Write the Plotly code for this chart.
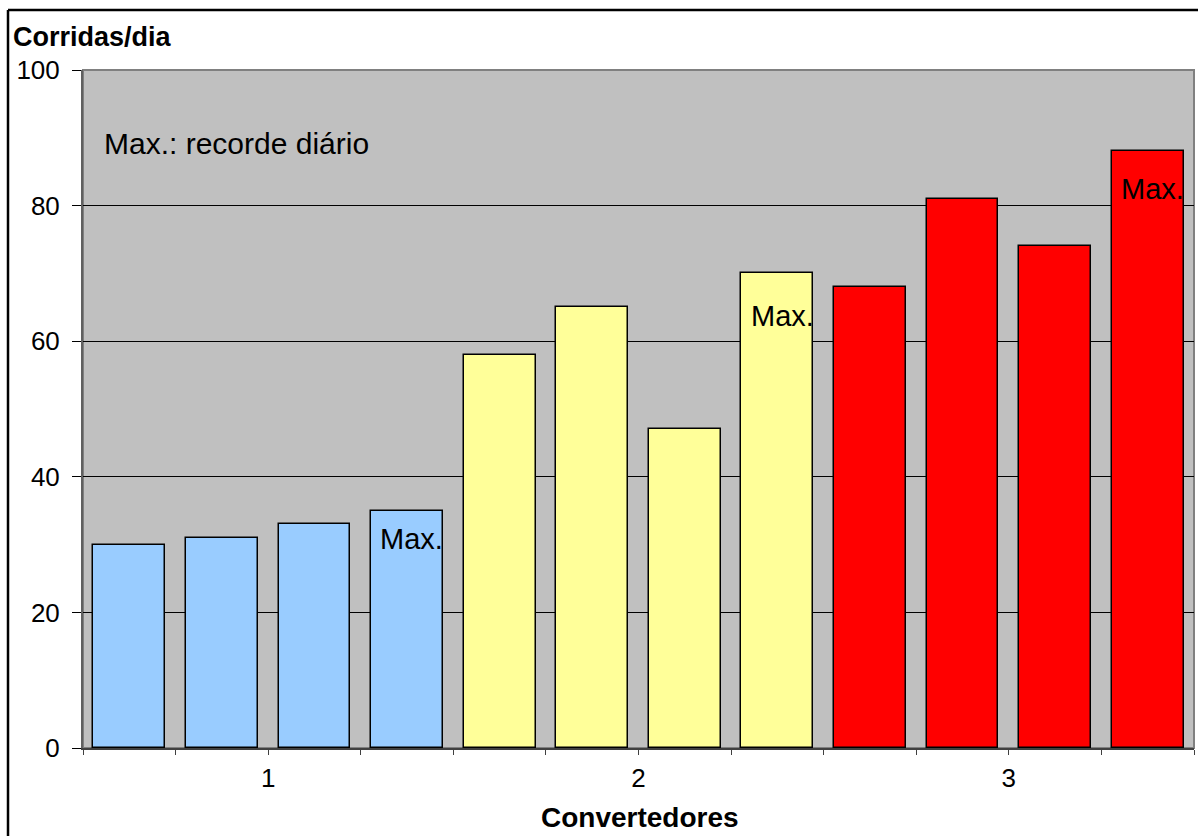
import plotly.graph_objects as go

# Daily runs per converter: four bars per converter, the fourth is the daily record
converters = ["1", "2", "3"]
runs_conv1 = [30, 31, 33, 35]
runs_conv2 = [58, 65, 47, 70]
runs_conv3 = [68, 81, 74, 88]
bar_labels = ["", "", "", "Max."]
y_ticks = [0, 20, 40, 60, 80, 100]

colors = ["#99CCFF", "#FFFF99", "#FF0000"]
label_shift = [-28, -43, -38]  # pixel offset of each "Max." label below its bar top

FONT = "Liberation Sans, Arial, sans-serif"

fig = go.Figure()
annotations = []
series = [runs_conv1, runs_conv2, runs_conv3]
for g, (vals, col) in enumerate(zip(series, colors)):
    xs = [g * len(vals) + i + 0.5 for i in range(len(vals))]
    fig.add_trace(go.Bar(
        x=xs, y=vals, width=0.776,
        marker=dict(color=col, line=dict(color="#000000", width=1.5)),
        showlegend=False, hoverinfo="y",
    ))
    for x, v, lab in zip(xs, vals, bar_labels):
        if lab:
            annotations.append(dict(
                x=x + 0.05, y=v, xref="x", yref="y", text=lab, showarrow=False,
                yanchor="middle", yshift=label_shift[g],
                font=dict(family=FONT, size=29, color="#000000"),
            ))

n_cat = sum(len(s) for s in series)
group_centers = [g * 4 + 2 for g in range(len(converters))]

annotations += [
    dict(x=0.0175, y=0.892, xref="paper", yref="paper", text="Max.: recorde diário",
         showarrow=False, xanchor="left", yanchor="middle",
         font=dict(family=FONT, size=30, color="#000000")),
    dict(x=-0.0648, y=1.048, xref="paper", yref="paper", text="<b>Corridas/dia</b>",
         showarrow=False, xanchor="left", yanchor="middle",
         font=dict(family=FONT, size=27, color="#000000")),
    dict(x=0.501, y=-0.103, xref="paper", yref="paper", text="<b>Convertedores</b>",
         showarrow=False, xanchor="center", yanchor="middle",
         font=dict(family=FONT, size=28, color="#000000")),
]

fig.update_layout(
    width=1198, height=836,
    margin=dict(l=83, r=4, t=70, b=88),
    paper_bgcolor="#FFFFFF", plot_bgcolor="#C0C0C0",
    bargap=0, showlegend=False,
    annotations=annotations,
    font=dict(family=FONT, size=26, color="#000000"),
    shapes=[
        # outer chart frame (left and top edges)
        dict(type="line", xref="paper", yref="paper", x0=-0.0675, x1=-0.0675, y0=-0.2, y1=1.0885,
             line=dict(color="#000000", width=2.5)),
        dict(type="line", xref="paper", yref="paper", x0=-0.0675, x1=1.05, y0=1.0885, y1=1.0885,
             line=dict(color="#000000", width=2.5)),
        # plot area border
        dict(type="rect", xref="paper", yref="paper", x0=0, x1=1, y0=0, y1=1,
             line=dict(color="#808080", width=2), layer="below"),
    ],
)

fig.update_xaxes(
    range=[0, n_cat], tickmode="array", tickvals=group_centers, ticktext=converters,
    ticks="outside", ticklen=5, tickcolor="#404040", tickwidth=1,
    minor=dict(dtick=1, tick0=0, ticks="outside", ticklen=5, tickcolor="#404040", tickwidth=1),
    showgrid=False, zeroline=False,
    showline=True, linecolor="#404040", linewidth=2,
    tickfont=dict(family=FONT, size=26, color="#000000"),
    ticklabelstandoff=1,
)
fig.update_yaxes(
    range=[0, 100], tickmode="array", tickvals=y_ticks,
    ticks="outside", ticklen=9, tickcolor="#000000", tickwidth=1,
    showgrid=True, gridcolor="#000000", gridwidth=1,
    zeroline=False, showline=True, linecolor="#606060", linewidth=2,
    tickfont=dict(family=FONT, size=26, color="#000000"),
    ticklabelstandoff=7,
)

fig.write_html("out.html")
